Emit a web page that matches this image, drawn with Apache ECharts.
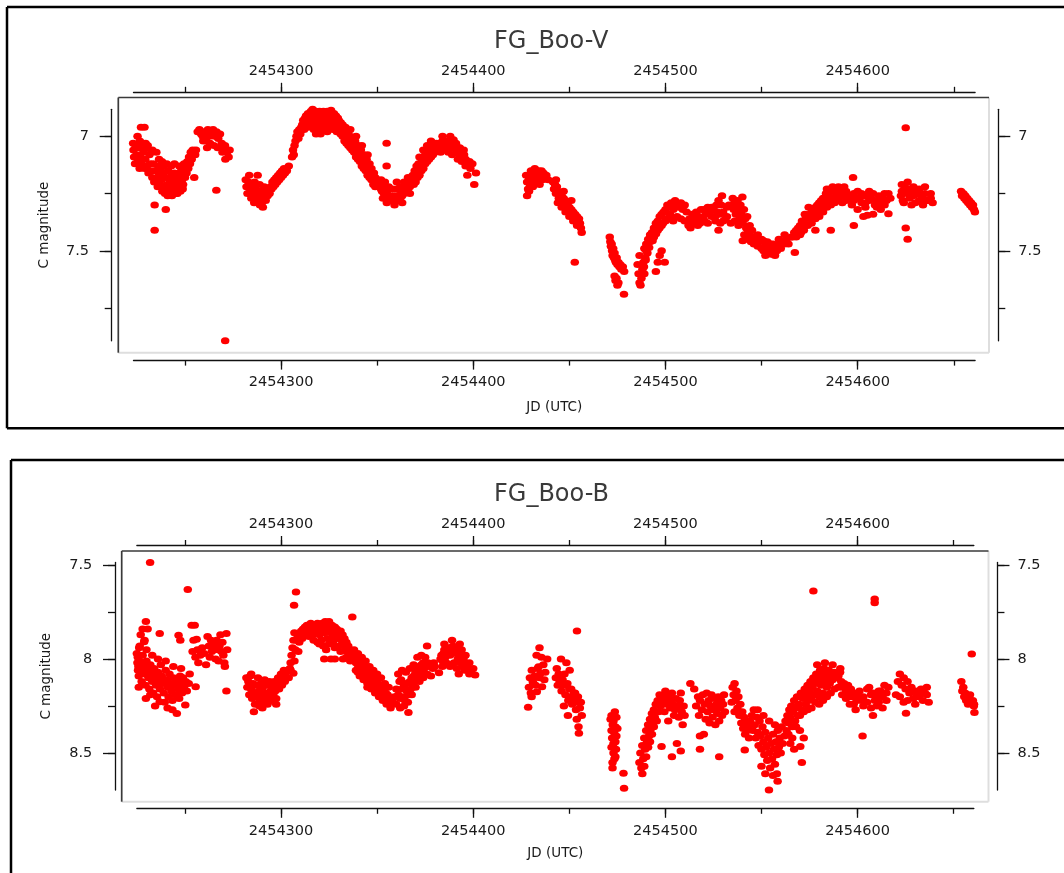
<!DOCTYPE html>
<html><head><meta charset="utf-8">
<script src="https://cdn.jsdelivr.net/npm/echarts@6/dist/echarts.min.js"></script>
<style>html,body{margin:0;padding:0;background:#fff}#c{width:1064px;height:873px}</style>
</head><body><div id="c"></div>
<script>
// ---------------- DATA ----------------
const JD_BASE = 2454000;                       // points below are stored as JD - JD_BASE
const vTitle = 'FG_Boo-V';
const bTitle = 'FG_Boo-B';
const xAxisName = 'JD (UTC)';
const yAxisName = 'C magnitude';
const xMajorTicks = [2454300, 2454400, 2454500, 2454600];
const xMinorTicks = [2454250, 2454300, 2454350, 2454400, 2454450, 2454500, 2454550, 2454600, 2454650];
const vYMajorTicks = [7, 7.5];
const vYMinorTicks = [7, 7.25, 7.5, 7.75];
const bYMajorTicks = [7.5, 8, 8.5];
const bYMinorTicks = [7.5, 7.75, 8, 8.25, 8.5];

// FG Boo, V band: [JD - 2454000, magnitude]
const vPoints = [
[223.0,7.03],[223.2,7.06],[223.5,7.09],[224.0,7.12],[224.3,7.04],[224.8,7.08],[225.3,7.0],[225.5,7.11],[226.0,7.05],[226.4,7.14],[226.5,7.02],[226.8,7.09],[227.1,6.96],[227.3,7.12],[228.0,7.03],[228.3,7.07],[228.9,6.96],[229.0,7.14],[229.3,7.1],[229.5,7.03],[229.8,7.05],[230.2,7.13],[230.6,7.04],[231.0,7.16],[231.5,7.08],[231.8,7.12],[232.4,7.07],[232.6,7.15],[233.0,7.18],[233.0,7.06],[233.5,7.12],[234.0,7.2],[234.2,7.30],[234.2,7.41],[234.5,7.15],[235.1,7.07],[235.2,7.19],[235.8,7.22],[236.0,7.13],[236.5,7.17],[236.5,7.1],[237.0,7.21],[237.4,7.15],[237.8,7.19],[238.0,7.11],[238.2,7.24],[238.6,7.17],[239.0,7.13],[239.5,7.22],[239.6,7.25],[240.0,7.32],[240.2,7.18],[240.5,7.12],[240.8,7.21],[241.0,7.26],[241.2,7.15],[241.6,7.24],[242.0,7.19],[242.5,7.22],[242.8,7.13],[243.0,7.17],[243.2,7.26],[243.6,7.2],[244.0,7.23],[244.5,7.16],[244.5,7.12],[245.0,7.21],[245.5,7.25],[245.8,7.18],[246.0,7.25],[246.3,7.22],[246.7,7.17],[247.0,7.13],[247.2,7.2],[247.6,7.24],[248.0,7.15],[248.5,7.19],[248.8,7.23],[249.0,7.21],[249.4,7.16],[249.5,7.12],[250.0,7.18],[250.3,7.13],[250.8,7.16],[251.2,7.11],[251.7,7.14],[252.1,7.09],[252.6,7.12],[253.0,7.07],[253.5,7.1],[254.0,7.06],[254.8,7.18],[255.3,7.08],[255.7,7.06],
[256.6,6.98],[257.5,6.97],[258.4,6.99],[259.2,7.0],[259.5,7.02],[260.0,6.98],[261.0,7.02],[261.5,7.05],[261.9,6.97],[262.8,7.0],[263.0,7.03],[263.6,6.98],[264.6,6.97],[265.0,7.04],[265.4,7.0],[266.3,7.235],[266.4,6.98],[267.0,7.05],[267.3,7.01],[268.2,6.99],[269.1,7.03],[269.5,7.07],[270.0,7.05],[270.8,7.04],[270.9,7.893],[271.0,7.1],[271.8,7.07],[272.7,7.09],[273.2,7.06],
[281.6,7.19],[282.0,7.22],[282.5,7.25],[283.0,7.2],[283.4,7.17],[283.5,7.22],[284.0,7.24],[284.5,7.27],[285.0,7.22],[285.5,7.25],[286.0,7.29],[286.2,7.2],[286.5,7.23],[287.0,7.26],[287.8,7.17],[288.0,7.28],[288.5,7.24],[288.8,7.21],[289.0,7.3],[289.5,7.26],[290.0,7.29],[290.5,7.31],[291.0,7.27],[291.2,7.22],[291.5,7.24],[292.0,7.28],[292.5,7.25],[293.0,7.26],[293.5,7.23],[294.0,7.25],[294.5,7.22],[295.0,7.23],[295.5,7.2],[296.0,7.22],[296.5,7.19],[297.0,7.21],[297.5,7.18],[298.0,7.2],[298.5,7.17],[299.0,7.19],[299.5,7.16],[300.0,7.18],[300.5,7.15],[301.0,7.17],[301.5,7.14],[302.0,7.16],[303.0,7.15],[304.0,7.13],
[305.7,7.09],[306.2,7.06],[306.6,7.08],[307.0,7.04],[307.5,7.02],[308.0,7.0],[308.5,6.98],[309.0,7.01],[309.5,6.97],[310.0,6.99],[310.5,6.96],[311.0,6.95],[311.5,6.93],[312.0,6.94],[312.5,6.92],[313.0,6.91],[313.5,6.93],[314.0,6.9],[314.7,6.91],[315.5,6.89],[316.4,6.882],[317.0,6.92],[318.2,6.99],[320.5,6.99],
[317.5,6.91],[318.0,6.93],[318.6,6.9],[319.0,6.92],[319.6,6.95],[320.0,6.91],[320.6,6.93],[321.0,6.9],[321.6,6.92],[322.0,6.89],[322.5,6.95],[322.6,6.91],[323.0,6.93],[323.5,6.9],[324.0,6.89],[324.5,6.904],[325.0,6.92],[325.5,6.9],[326.0,6.91],[326.5,6.93],[326.5,6.96],[327.0,6.92],[327.5,6.9],[328.0,6.93],[328.5,6.91],[329.0,6.94],[329.5,6.92],[330.0,6.93],[330.5,6.95],[331.0,6.94],[331.5,6.96],[332.0,6.95],[332.5,6.97],
[312.0,6.97],[313.0,6.95],[314.0,6.96],[315.0,6.94],[316.0,6.95],[317.0,6.97],[318.0,6.96],[319.0,6.98],[321.0,6.97],[323.0,6.96],[324.0,6.98],[325.0,6.95],[327.0,6.97],[328.0,6.96],[329.0,6.98],[330.0,6.97],[331.0,6.99],[332.0,7.0],[320.0,6.89],[318.0,6.89],[326.0,6.886],
[333.0,6.98],[333.5,6.96],[334.0,6.99],[334.5,7.0],[335.0,6.98],[335.5,7.01],[336.0,7.0],[336.5,7.02],[337.0,7.03],[337.5,7.01],[338.0,7.04],[338.5,7.02],[339.0,7.05],[339.5,7.06],[340.0,7.04],[340.5,7.07],[341.0,7.08],[341.5,7.06],[342.0,7.09],[342.5,7.1],[343.0,7.08],[343.3,7.11],[344.0,7.12],[344.5,7.1],[345.0,7.13],[345.5,7.15],[346.0,7.12],[346.5,7.16],[347.0,7.14],[347.7,7.17],[348.3,7.16],[349.0,7.18],[349.5,7.2],[350.0,7.19],[354.9,7.03],[354.9,7.13],
[333.0,7.02],[334.0,7.03],[335.0,7.04],[336.0,7.05],[337.0,7.06],[338.0,7.07],[339.0,7.09],[340.0,7.1],[341.0,7.11],[342.0,7.13],[343.0,7.14],[344.0,7.15],[345.0,7.17],[346.0,7.18],[347.0,7.19],[348.0,7.21],[349.0,7.22],[336.0,6.97],[339.0,7.0],[342.0,7.04],[345.0,7.08],
[350.5,7.21],[351.0,7.22],[351.5,7.2],[352.0,7.23],[352.5,7.24],[353.0,7.22],[353.5,7.25],[354.0,7.24],[354.5,7.26],[355.0,7.25],[355.5,7.27],[356.0,7.26],[356.5,7.28],[357.0,7.27],[357.5,7.28],[358.0,7.26],[358.5,7.28],[359.0,7.27],[359.5,7.28],[360.0,7.26],[360.2,7.2],[360.5,7.27],[361.0,7.28],[361.5,7.26],[362.0,7.27],[362.5,7.25],[363.0,7.26],[363.5,7.24],[364.0,7.25],[364.5,7.23],[365.0,7.24],[365.5,7.22],[366.0,7.23],[366.5,7.21],[367.0,7.22],[367.5,7.2],[368.0,7.19],
[352.0,7.19],[354.0,7.2],[356.0,7.22],[358.0,7.23],[360.0,7.23],[362.0,7.22],[364.0,7.2],[366.0,7.18],[355.0,7.29],[359.0,7.3],[363.0,7.29],[353.0,7.27],[367.0,7.25],
[368.5,7.17],[369.0,7.18],[369.5,7.15],[370.0,7.16],[370.5,7.13],[371.0,7.18],[371.5,7.12],[372.0,7.14],[372.8,7.13],[373.2,7.1],[373.7,7.11],[374.2,7.09],[375.0,7.08],[375.5,7.1],[376.0,7.07],[377.2,7.085],[377.5,7.06],[378.0,7.05],[379.0,7.06],[380.0,7.04],
[369.0,7.21],[370.0,7.2],[371.0,7.16],[372.0,7.17],[373.0,7.15],[374.0,7.14],[375.0,7.12],[376.0,7.11],[377.0,7.1],[378.0,7.09],[379.0,7.08],[380.0,7.07],[372.0,7.09],[374.0,7.06],[376.0,7.04],[378.0,7.02],
[380.8,7.03],[381.5,7.05],[382.0,7.04],[382.6,7.03],[383.2,7.05],[384.0,7.02],[384.7,7.04],[385.4,7.03],[386.2,7.05],[386.8,7.02],[387.5,7.04],[388.2,7.03],[389.0,7.05],[389.7,7.015],[390.5,7.04],[391.0,7.06],[391.5,7.07],[392.2,7.05],[393.0,7.08],[393.8,7.07],[394.5,7.09],[395.2,7.08],[396.0,7.1],[396.9,7.17],[397.0,7.12],[398.0,7.11],[398.5,7.14],[399.5,7.12],[400.5,7.21],[401.4,7.16],
[383.0,7.07],[385.0,7.06],[387.0,7.07],[389.0,7.08],[391.0,7.03],[393.0,7.05],[395.0,7.06],[384.0,7.0],[388.0,7.0],[392.0,7.1],[394.0,7.11],[396.0,7.13],
[427.5,7.17],[428.0,7.2],[428.5,7.23],[429.0,7.18],[429.5,7.21],[430.0,7.15],[430.5,7.19],[431.0,7.22],[431.5,7.17],[432.0,7.14],[432.5,7.2],[433.0,7.16],[433.5,7.18],[434.0,7.15],[434.5,7.21],[435.0,7.17],[435.5,7.15],[436.0,7.19],[436.5,7.16],[437.0,7.18],[438.0,7.17],[439.0,7.19],[428.0,7.26],[429.0,7.24],
[441.5,7.2],[442.0,7.23],[442.5,7.21],[443.0,7.25],[443.5,7.22],[444.0,7.24],[444.5,7.27],[445.0,7.25],[445.5,7.28],[446.0,7.26],[446.5,7.29],[447.0,7.27],[447.5,7.3],[448.0,7.28],[448.5,7.31],[449.0,7.3],[449.5,7.32],[450.0,7.31],[450.5,7.33],[451.0,7.32],[451.5,7.34],[452.0,7.33],[452.5,7.35],[453.0,7.34],[453.5,7.36],[454.0,7.35],[454.5,7.37],[455.0,7.36],[455.5,7.38],[456.0,7.4],[456.4,7.42],[452.8,7.55],
[444.0,7.29],[446.0,7.31],[448.0,7.33],[450.0,7.35],[452.0,7.37],[454.0,7.39],[443.0,7.19],[447.0,7.24],[451.0,7.28],
[471.0,7.44],[471.3,7.46],[471.6,7.48],[472.0,7.47],[472.2,7.5],[472.5,7.52],[472.8,7.49],[473.2,7.53],[473.5,7.51],[473.8,7.54],[474.2,7.55],[474.6,7.53],[475.0,7.56],[475.5,7.55],[476.0,7.57],[476.5,7.56],[477.0,7.58],[477.8,7.57],[478.5,7.59],[473.5,7.61],[474.0,7.63],[474.5,7.62],[475.0,7.65],[475.5,7.64],[478.4,7.69],
[485.5,7.56],[486.0,7.6],[486.5,7.64],[487.0,7.65],[487.5,7.62],[488.0,7.58],[488.5,7.55],[489.0,7.6],[489.5,7.53],[486.5,7.52],[488.8,7.57],[489.7,7.54],[490.6,7.51],[491.5,7.485],[493.3,7.456],[495.1,7.426],[496.9,7.4],[498.7,7.38],[500.5,7.36],[502.3,7.34],[504.1,7.32],
[489.0,7.49],[490.0,7.47],[491.0,7.45],[492.0,7.43],[493.0,7.42],[494.0,7.4],[495.0,7.38],[496.0,7.37],[497.0,7.35],[498.0,7.34],[499.0,7.33],[500.0,7.32],[501.0,7.3],[502.0,7.31],[503.0,7.29],[504.0,7.3],[505.0,7.28],[506.0,7.3],[507.0,7.31],[508.0,7.29],[509.0,7.32],[510.0,7.3],[511.0,7.33],[490.0,7.5],[492.0,7.46],[494.0,7.44],[496.0,7.41],[498.0,7.39],[500.0,7.37],[496.0,7.55],[499.6,7.55],[495.0,7.59],[497.0,7.52],[498.0,7.5],
[512.5,7.36],[513.0,7.4],[514.0,7.34],[515.0,7.37],[516.0,7.33],[516.8,7.39],[517.5,7.35],[518.5,7.32],[519.5,7.36],[520.4,7.37],[521.0,7.34],[522.0,7.31],[523.0,7.33],[524.0,7.35],[525.0,7.32],[525.8,7.35],[526.5,7.3],[527.0,7.33],[527.6,7.28],[527.6,7.41],[528.5,7.38],[529.0,7.3],[529.4,7.26],[530.0,7.33],[531.2,7.36],[532.0,7.31],
[502.0,7.36],[504.0,7.37],[506.0,7.35],[508.0,7.36],[510.0,7.37],[512.0,7.39],[514.0,7.38],[516.0,7.36],[518.0,7.38],[520.0,7.32],[522.0,7.38],[524.0,7.31],[526.0,7.37],[528.0,7.34],[530.0,7.37],[532.0,7.35],[534.0,7.38],[536.0,7.37],[538.0,7.39],[533.0,7.3],
[534.5,7.3],[535.0,7.27],[535.5,7.32],[536.0,7.29],[536.6,7.34],[537.0,7.31],[537.5,7.28],[538.0,7.33],[538.5,7.36],[539.0,7.3],[539.5,7.34],[540.0,7.265],[540.2,7.38],[540.8,7.32],[541.5,7.36],[542.0,7.4],[542.5,7.35],[543.0,7.42],[543.8,7.39],
[540.2,7.456],[541.0,7.43],[542.0,7.45],[543.0,7.44],[543.8,7.426],[544.5,7.46],[545.5,7.44],[546.0,7.47],[547.0,7.45],[547.4,7.44],[548.0,7.48],[549.0,7.46],[550.0,7.49],[551.0,7.456],[551.0,7.5],[552.0,7.48],[553.0,7.5],[554.0,7.49],[554.6,7.47],[555.0,7.515],[556.0,7.5],[557.0,7.49],[558.0,7.5],[558.3,7.485],[559.0,7.47],[560.0,7.49],[561.0,7.46],[561.9,7.47],[563.0,7.45],[564.0,7.47],[565.5,7.44],[567.3,7.507],
[545.0,7.41],[548.0,7.43],[550.0,7.45],[553.0,7.46],[556.0,7.47],[559.0,7.45],[562.0,7.43],[552.0,7.52],[557.0,7.52],
[566.0,7.44],[567.0,7.42],[568.0,7.41],[569.0,7.4],[570.0,7.39],[570.5,7.42],[571.0,7.37],[572.0,7.38],[572.5,7.34],[573.0,7.36],[574.0,7.35],[574.5,7.31],[575.0,7.34],[576.0,7.33],[576.3,7.36],[577.0,7.32],[578.0,7.31],[578.0,7.41],[578.5,7.34],[579.0,7.3],[580.0,7.29],[580.5,7.32],[581.0,7.28],[582.0,7.27],[582.5,7.3],[583.0,7.29],[583.5,7.25],[584.0,7.26],[585.0,7.25],[585.5,7.28],[586.0,7.41],[586.5,7.24],[587.0,7.27],[588.0,7.24],[589.0,7.26],[590.0,7.25],[591.0,7.23],[592.0,7.26],[593.0,7.25],[594.0,7.24],[595.0,7.27],[596.0,7.26],
[568.0,7.44],[570.0,7.43],[572.0,7.41],[574.0,7.39],[576.0,7.38],[578.0,7.36],[580.0,7.35],[582.0,7.33],[584.0,7.31],[586.0,7.3],[588.0,7.29],[590.0,7.28],[592.0,7.29],[594.0,7.28],[587.0,7.22],[590.0,7.22],[593.0,7.22],[584.0,7.23],
[597.6,7.18],[597.0,7.3],[598.0,7.28],[598.0,7.39],[599.0,7.27],[600.0,7.32],[601.0,7.27],[602.0,7.29],[603.0,7.35],[604.0,7.29],[604.0,7.31],[605.0,7.345],[606.0,7.28],[607.0,7.27],[608.0,7.34],[609.0,7.3],[610.0,7.28],[611.0,7.26],[612.0,7.29],[613.0,7.27],[614.0,7.3],[615.0,7.28],[616.0,7.338],[617.0,7.27],
[598.0,7.25],[600.0,7.24],[602.0,7.25],[604.0,7.26],[606.0,7.24],[608.0,7.25],[610.0,7.31],[612.0,7.32],[614.0,7.25],[616.0,7.25],
[622.5,7.26],[623.0,7.24],[623.5,7.28],[624.0,7.29],[624.5,7.22],[625.0,6.963],[625.0,7.4],[625.5,7.25],[626.0,7.45],[626.5,7.23],[627.0,7.27],[628.0,7.3],[628.5,7.25],[629.0,7.26],[630.0,7.24],[631.0,7.25],[632.0,7.28],[633.0,7.26],[634.0,7.27],[635.0,7.25],[636.0,7.28],[637.0,7.28],[638.0,7.27],[639.0,7.29],
[623.0,7.21],[626.0,7.2],[629.0,7.22],[632.0,7.23],[635.0,7.22],[638.0,7.25],[630.0,7.29],[634.0,7.3],
[653.8,7.24],[654.3,7.26],[655.0,7.25],[655.5,7.27],[656.0,7.26],[656.5,7.28],[657.0,7.27],[657.5,7.29],[658.0,7.28],[658.5,7.3],[659.0,7.29],[659.5,7.31],[660.0,7.3],[660.5,7.32],[661.0,7.33]
];

// FG Boo, B band: [JD - 2454000, magnitude]
const bPoints = [
[225.0,7.97],[225.3,8.02],[225.6,8.06],[225.5,7.99],[225.8,8.04],[226.0,8.09],[226.5,8.01],[227.0,8.06],[227.5,8.12],[228.0,7.98],[228.5,8.03],[229.0,8.08],[229.5,8.14],[229.7,8.21],[230.0,8.01],[230.5,8.05],[231.0,8.1],[231.5,8.16],[232.0,8.03],[232.5,8.07],[233.0,8.12],[233.5,8.18],[234.0,8.05],[234.5,8.09],[235.0,8.14],[235.5,8.2],[236.0,8.07],[236.5,8.11],[236.9,8.227],[237.0,8.16],[237.5,8.03],[238.0,8.09],[238.5,8.13],[239.0,8.18],[239.5,8.23],[240.0,8.06],[240.5,8.11],[241.0,8.15],[241.5,8.2],[242.0,8.08],[242.5,8.13],[243.0,8.17],[243.5,8.22],[244.0,8.1],[244.5,8.14],[245.0,8.19],[245.8,8.29],[246.0,8.12],[246.5,8.16],[247.0,8.21],[247.5,8.09],[248.0,8.13],[248.5,8.18],[249.0,8.1],[249.5,8.15],[250.2,8.245],[250.5,8.12],[251.0,8.17],[252.0,8.13],[252.5,8.08],[255.6,8.147],[226.0,8.15],[232.0,8.19],[234.5,8.25],[241.0,8.26],[243.5,8.27],[226.5,7.93],[230.0,7.95],[233.0,7.98],[236.0,8.0],[240.0,8.01],[244.0,8.04],[248.0,8.05],[227.0,7.87],[228.0,7.84],[229.0,7.9],
[231.9,7.486],[229.7,7.80],[230.6,7.84],[236.9,7.864],[228.8,7.908],[226.2,7.94],[246.7,7.873],[247.6,7.9],[251.5,7.63],
[253.5,7.82],[254.0,7.96],[254.5,7.9],[255.1,7.82],[255.5,7.99],[256.1,7.894],[256.5,7.95],[257.0,8.02],[258.0,7.98],[259.0,7.94],[260.0,7.97],[261.0,8.03],[261.8,7.88],[262.5,7.93],[263.0,7.99],[263.6,7.9],[264.0,7.96],[265.0,7.92],[265.4,7.95],[266.0,8.0],[266.5,7.9],[267.2,7.95],[267.5,8.01],[268.0,7.93],[268.5,7.87],[269.0,7.96],[269.5,7.91],[270.0,7.98],[270.5,8.02],[270.8,8.04],[271.6,7.864],[271.6,8.17],[272.0,7.95],
[282.0,8.1],[282.5,8.15],[283.0,8.12],[283.5,8.19],[284.0,8.09],[284.5,8.16],[285.0,8.21],[285.5,8.13],[285.9,8.28],[286.0,8.18],[286.5,8.24],[287.0,8.14],[287.5,8.2],[288.0,8.1],[288.5,8.17],[289.0,8.22],[289.5,8.13],[290.0,8.19],[290.3,8.26],[290.5,8.15],[291.0,8.23],[291.5,8.11],[292.0,8.18],[292.5,8.21],[293.0,8.14],[293.5,8.2],[294.0,8.12],[294.5,8.17],[295.0,8.22],[295.5,8.15],[296.0,8.19],[296.5,8.12],[297.0,8.17],[297.5,8.21],[298.0,8.14],[298.5,8.1],[299.0,8.16],[299.5,8.12],[300.0,8.08],[300.5,8.14],[301.0,8.1],[301.5,8.06],[302.0,8.12],[302.5,8.07],[284.5,8.08],[288.8,8.25],[293.0,8.24],[297.5,8.24],
[304.0,8.1],[304.6,8.05],[305.0,8.02],[305.5,7.98],[306.0,7.94],[306.4,8.076],[306.5,7.9],[306.8,7.714],[307.0,7.86],[307.8,7.643],[307.5,7.95],[308.0,7.9],[308.5,7.87],[309.0,7.96],[309.5,7.91],[310.0,7.88],[310.5,7.85],[311.0,7.89],[311.5,7.84],[312.0,7.87],[312.5,7.83],[313.0,7.86],[313.5,7.82],[314.0,7.85],[314.5,7.88],[315.0,7.83],[315.5,7.81],[305.0,8.06],[307.0,8.01],
[316.0,7.84],[316.5,7.87],[317.0,7.83],[317.5,7.86],[318.0,7.82],[318.5,7.85],[319.0,7.81],[319.5,7.84],[320.0,7.87],[320.5,7.82],[321.0,7.85],[321.5,7.81],[322.0,7.83],[322.5,8.0],[322.5,7.86],[323.0,7.8],[323.5,7.83],[324.0,7.81],[324.5,7.85],[325.0,7.8],[325.5,7.83],[326.0,8.0],[326.0,7.86],[326.5,7.82],[327.0,7.84],[327.5,7.88],[328.0,8.0],[328.0,7.83],[328.5,7.86],[329.0,7.84],[329.5,7.89],[330.0,7.86],[330.5,7.88],[331.0,7.85],[331.5,7.9],[332.0,7.87],[332.3,8.0],[332.5,7.92],[333.0,7.89],[333.5,7.94],[334.0,7.91],[334.5,7.96],[335.0,7.93],[335.5,7.98],[336.0,7.95],[337.1,7.776],[320.0,7.92],[324.0,7.89],[327.0,7.91],[330.0,7.93],[323.5,7.95],
[317.0,7.9],[319.0,7.91],[321.0,7.9],[322.0,7.93],[325.0,7.92],[328.0,7.94],[331.0,7.96],[334.0,7.99],[336.0,8.01],
[337.0,7.97],[338.0,8.0],[338.5,7.98],[339.0,8.02],[339.5,8.0],[340.0,8.03],[340.5,8.01],[341.0,8.05],[341.5,8.03],[342.0,7.99],[342.5,8.06],[343.0,8.04],[343.5,8.08],[344.0,8.05],[344.5,8.09],[345.0,8.07],[345.5,8.11],[346.0,8.08],[346.5,8.1],[347.0,8.12],[347.5,8.09],[348.0,8.13],[348.5,8.11],[349.0,8.14],[349.5,8.12],[350.0,8.15],[350.5,8.13],[351.0,8.16],[351.5,8.14],[352.0,8.17],[352.5,8.15],[353.0,8.19],[353.5,8.16],[354.0,8.2],[354.5,8.18],[355.0,8.22],[355.5,8.19],[356.0,8.21],[357.0,8.23],[358.0,8.22],[340.0,8.07],[345.0,8.13],
[338.0,7.95],[340.0,7.97],[342.0,8.02],[344.0,8.01],[346.0,8.04],[348.0,8.06],[350.0,8.08],[352.0,8.1],[354.0,8.13],[356.0,8.15],[339.0,8.06],[341.0,8.09],[343.0,8.11],[345.0,8.15],[347.0,8.16],[349.0,8.18],[351.0,8.2],[353.0,8.22],[355.0,8.24],[357.0,8.26],
[359.0,8.2],[360.0,8.16],[361.0,8.19],[361.7,8.12],[362.0,8.21],[362.5,8.11],[363.0,8.16],[363.5,8.2],[364.0,8.14],[364.5,8.22],[365.0,8.13],[365.5,8.17],[366.3,8.284],[366.5,8.19],[367.0,8.12],[367.5,8.16],[368.0,8.1],[368.5,8.14],[369.0,8.09],[369.5,8.12],[370.0,8.07],[370.5,8.1],[371.0,8.05],[371.5,8.08],[372.0,8.04],[372.5,8.07],[373.0,8.03],[373.5,8.06],[374.0,8.02],[374.5,8.05],[375.0,8.03],[376.0,7.93],[376.5,8.02],[377.0,8.04],[378.0,8.03],[379.0,8.05],[379.5,8.02],[380.0,8.04],
[360.0,8.24],[362.0,8.26],[364.0,8.25],[366.0,8.23],[368.0,8.19],[370.0,8.15],[372.0,8.12],[374.0,8.1],[376.0,8.08],[378.0,8.09],[361.0,8.08],[363.0,8.06],[365.0,8.07],[367.0,8.05],[369.0,8.03],[371.0,7.99],[373.0,7.98],[375.0,7.99],
[382.2,8.073],[383.0,8.0],[383.5,7.98],[384.0,8.01],[384.5,7.97],[385.0,7.95],[385.5,7.99],[386.0,7.94],[386.5,7.97],[387.0,7.96],[387.5,7.94],[388.0,7.98],[389.0,7.95],[389.5,7.93],[390.0,7.96],[390.5,7.94],[391.0,7.97],[391.5,8.05],[392.0,7.96],[392.5,8.08],[393.0,7.98],[393.5,8.02],[394.0,7.99],[394.5,8.04],[395.0,8.0],[395.5,8.06],[396.0,8.03],[397.0,8.05],[398.0,8.02],[399.0,8.06],[401.0,8.085],
[384.0,8.04],[386.0,8.02],[388.0,8.04],[390.0,8.02],[392.0,8.0],[394.0,7.95],[396.0,7.98],[398.0,8.08],[400.0,8.05],[385.0,7.92],[389.0,7.9],[393.0,7.92],
[428.6,8.257],[429.0,8.15],[429.5,8.1],[430.0,8.18],[430.4,8.2],[430.5,8.06],[431.0,8.12],[431.3,8.129],[432.0,8.09],[432.5,8.14],[433.0,7.98],[433.1,8.174],[433.5,8.05],[434.0,8.041],[434.5,7.94],[434.5,8.1],[435.0,8.076],[435.5,7.99],[435.8,8.147],[436.5,8.03],[437.0,8.11],[437.5,8.07],[438.5,8.0],
[443.0,8.1],[443.5,8.05],[444.0,8.14],[444.5,8.08],[445.0,8.12],[445.7,8.0],[446.0,8.17],[446.5,8.11],[447.0,8.14],[447.2,8.25],[447.5,8.08],[448.0,8.19],[448.5,8.02],[449.0,8.13],[449.3,8.3],[449.5,8.22],[450.0,8.16],[450.2,8.06],[450.5,8.2],[451.0,8.16],[451.5,8.24],[452.0,8.21],[452.5,8.18],[453.0,8.18],[453.5,8.27],[453.9,8.32],[454.0,8.23],[454.0,7.85],[454.5,8.2],[454.8,8.36],[455.0,8.395],[455.5,8.26],[456.0,8.23],[456.5,8.3],
[471.5,8.32],[472.0,8.3],[472.0,8.38],[472.0,8.47],[472.3,8.42],[472.5,8.55],[472.6,8.35],[473.0,8.33],[473.0,8.45],[473.0,8.5],[473.3,8.39],[473.5,8.53],[473.7,8.28],[474.0,8.36],[474.0,8.44],[474.0,8.52],[474.3,8.48],[474.5,8.31],[474.5,8.41],[475.0,8.37],[472.5,8.58],[478.2,8.608],[478.5,8.688],
[486.5,8.55],[487.0,8.5],[487.5,8.58],[488.0,8.61],[488.0,8.46],[488.5,8.53],[489.0,8.42],[489.0,8.57],[489.5,8.48],[490.0,8.38],[490.0,8.52],[490.5,8.44],[491.0,8.35],[491.0,8.47],[491.5,8.41],[492.0,8.32],[492.0,8.44],[492.5,8.37],[493.0,8.29],[493.0,8.4],[493.5,8.34],[494.0,8.27],[494.0,8.36],[494.5,8.31],[495.0,8.24],[495.5,8.33],[496.0,8.22],[496.5,8.28],[497.0,8.19],[497.5,8.25],[498.0,8.466],[498.0,8.22],[499.0,8.2],[499.5,8.28],[500.0,8.17],[500.5,8.24],[501.0,8.21],[501.5,8.33],[502.0,8.19],[502.5,8.26],[503.0,8.22],[503.4,8.18],[503.4,8.52],[504.0,8.24],[504.5,8.3],[505.0,8.27],[505.5,8.21],[506.0,8.45],[506.5,8.25],[507.0,8.31],[507.5,8.22],[508.0,8.18],[508.0,8.49],[508.5,8.28],[509.0,8.35],[509.5,8.25],[510.0,8.3],
[513.0,8.13],[515.0,8.16],[516.0,8.25],[517.0,8.2],[517.5,8.3],[518.0,8.22],[518.0,8.41],[518.0,8.48],[519.0,8.27],[519.5,8.19],[520.0,8.4],[520.5,8.24],[521.0,8.32],[521.5,8.18],[522.0,8.28],[522.5,8.22],[523.0,8.34],[523.5,8.25],[524.0,8.19],[524.5,8.31],[525.0,8.27],[525.5,8.21],[526.0,8.35],[526.5,8.24],[527.0,8.29],[527.5,8.2],[528.0,8.52],[528.0,8.33],[528.5,8.26],[529.0,8.22],[529.5,8.3],[530.0,8.24],[530.5,8.19],[531.0,8.28],
[535.0,8.15],[535.5,8.19],[536.0,8.13],[536.5,8.22],[537.0,8.17],[537.5,8.26],[538.0,8.2],[538.5,8.3],[539.0,8.24],[539.5,8.34],[540.0,8.28],[540.5,8.37],[541.0,8.31],[541.3,8.484],[541.5,8.4],[542.0,8.34],[542.5,8.38],[543.0,8.36],[543.5,8.42],[544.0,8.33],[534.5,8.23],[536.0,8.28],
[545.0,8.3],[545.5,8.38],[546.0,8.27],[546.5,8.35],[547.0,8.42],[547.5,8.31],[548.0,8.39],[548.5,8.46],[549.0,8.33],[549.5,8.41],[550.0,8.57],[550.0,8.48],[550.5,8.36],[551.0,8.44],[551.5,8.51],[552.0,8.61],[552.0,8.39],[552.5,8.47],[553.0,8.54],[553.5,8.42],[553.9,8.697],[554.0,8.5],[554.5,8.58],[555.0,8.45],[555.5,8.53],[556.0,8.62],[556.0,8.4],[556.5,8.48],[557.0,8.56],[557.5,8.44],[558.0,8.61],[558.0,8.51],[558.4,8.65],[558.5,8.38],[559.0,8.47],[559.5,8.42],[560.0,8.5],[560.5,8.36],[561.0,8.45],[562.0,8.41],[562.5,8.33],[563.0,8.38],[548.0,8.27],[551.0,8.3],[554.0,8.33],[557.0,8.35],
[563.5,8.3],[564.0,8.34],[564.5,8.27],[565.0,8.31],[565.5,8.25],[566.0,8.36],[566.5,8.28],[567.0,8.22],[567.5,8.33],[568.0,8.26],[568.5,8.2],[569.0,8.3],[569.5,8.24],[570.0,8.38],[570.2,8.466],[570.5,8.18],[571.0,8.55],[571.0,8.27],[571.5,8.21],[572.0,8.42],[572.5,8.16],[573.0,8.24],[573.5,8.19],[574.0,8.14],[574.5,8.22],[575.0,8.17],[575.5,8.12],[576.0,8.2],[577.0,7.638],
[564.0,8.4],[566.0,8.42],[568.0,8.36],[570.0,8.3],[572.0,8.28],[574.0,8.27],[576.0,8.26],[565.0,8.45],[567.0,8.48],
[576.5,8.15],[577.0,8.1],[577.5,8.19],[578.0,8.13],[578.5,8.08],[579.0,8.17],[579.5,8.11],[580.0,8.2],[580.5,8.06],[581.0,8.14],[581.5,8.09],[582.0,8.18],[582.5,8.05],[583.0,8.12],[583.5,8.07],[584.0,8.15],[584.5,8.1],[585.0,8.06],[585.5,8.13],[586.0,8.08],[587.0,8.11],[588.0,8.07],[589.0,8.1],[590.0,8.09],[590.9,8.07],[591.5,8.12],[592.0,8.15],[593.0,8.13],[594.0,8.17],[595.0,8.14],[596.0,8.24],[596.5,8.16],[597.0,8.2],[598.0,8.18],[599.0,8.27],[599.5,8.22],[600.0,8.2],
[578.0,8.23],[580.0,8.24],[582.0,8.22],[584.0,8.2],[586.0,8.18],[588.0,8.16],[590.0,8.15],[592.0,8.19],[594.0,8.21],[596.0,8.19],[598.0,8.24],[579.0,8.03],[583.0,8.02],[587.0,8.03],[591.0,8.05],
[601.0,8.17],[602.0,8.22],[602.6,8.41],[603.0,8.2],[605.0,8.16],[606.0,8.15],[607.0,8.19],[608.0,8.18],[608.0,8.3],[608.9,7.68],[608.9,7.7],[609.0,8.22],[610.0,8.2],[610.0,8.25],[611.0,8.17],[612.0,8.17],[613.0,8.2],[614.0,8.14],[615.0,8.18],[616.0,8.15],
[603.0,8.25],[605.0,8.23],[607.0,8.26],[611.0,8.23],[613.0,8.26],[615.0,8.22],
[620.0,8.19],[621.0,8.12],[622.0,8.08],[623.0,8.14],[624.0,8.1],[624.0,8.23],[625.0,8.16],[625.2,8.289],[626.0,8.12],[627.0,8.18],[628.0,8.15],[629.0,8.21],[630.0,8.17],[631.0,8.19],[632.0,8.2],[633.0,8.16],[634.0,8.22],[635.0,8.18],[636.0,8.19],[637.0,8.23],
[622.0,8.2],[626.0,8.22],[630.0,8.24],[634.0,8.18],[636.0,8.15],
[654.0,8.12],[654.5,8.17],[655.0,8.15],[655.5,8.2],[656.0,8.18],[656.5,8.22],[657.0,8.2],[657.5,8.24],[658.0,8.21],[658.5,8.19],[659.0,8.23],[659.4,7.973],[660.0,8.22],[660.5,8.25],[660.6,8.24],[660.8,8.285]
];

// ---------------- LAYOUT ----------------
const FONT = '"DejaVu Sans", sans-serif';
const INK = '#111111';
const panels = [
  { title: vTitle, points: vPoints, yMajor: vYMajorTicks, yMinor: vYMinorTicks,
    grid: {left: 133.5, top: 109.3, width: 841.6, height: 231.5},
    jd: [223.2, 661.1], mag: [6.882, 7.893],
    off: {top: 17, bottom: 19.3, left: 21.8, right: 23.2},
    box: [118.3, 97.5, 989, 352.7],
    frame: {left: 7, top: 7, bottom: 428.3},
    titleTop: 30, yNameGap: 60, xNameGap: 40 },
  { title: bTitle, points: bPoints, yMajor: bYMajorTicks, yMinor: bYMinorTicks,
    grid: {left: 136.85, top: 562.5, width: 837, height: 227.5},
    jd: [225, 660.5], mag: [7.486, 8.697],
    off: {top: 17, bottom: 18.3, left: 21.85, right: 23.6},
    box: [121.7, 551, 988.5, 801.7],
    frame: {left: 11, top: 460, bottom: null},
    titleTop: 483, yNameGap: 62, xNameGap: 38 }
];

const option = { animation: false, backgroundColor: '#ffffff', textStyle: {fontFamily: FONT},
  title: [], grid: [], xAxis: [], yAxis: [], series: [], graphic: [] };

const lineStyle = {color: INK, width: 1.3};
const labelStyle = {fontFamily: FONT, fontSize: 14.5, color: '#1a1a1a'};
const nameStyle = {fontFamily: FONT, fontSize: 13.5, color: '#1a1a1a'};
const fmt = v => String(v);

function gline(x1, y1, x2, y2, stroke, w, z) {
  return {type: 'line', silent: true, z: z, shape: {x1, y1, x2, y2}, style: {stroke: stroke, lineWidth: w}};
}

panels.forEach(P => {
  const gi = option.grid.length;
  option.grid.push(Object.assign({show: false, containLabel: false, outerBoundsMode: 'none'}, P.grid));

  const xb = {gridIndex: gi, type: 'value', min: JD_BASE + P.jd[0], max: JD_BASE + P.jd[1],
    splitLine: {show: false}, splitArea: {show: false}};
  const xi = option.xAxis.length;
  option.xAxis.push(
    Object.assign({}, xb, {position: 'top', offset: P.off.top,
      axisLine: {show: true, onZero: false, lineStyle},
      axisTick: {show: true, inside: false, length: 9.5, customValues: xMajorTicks, lineStyle},
      axisLabel: Object.assign({show: true, customValues: xMajorTicks, margin: 13.5, formatter: fmt}, labelStyle)}),
    Object.assign({}, xb, {position: 'top', offset: P.off.top,
      axisLine: {show: false, onZero: false},
      axisTick: {show: true, inside: false, length: 5.5, customValues: xMinorTicks, lineStyle},
      axisLabel: {show: false}}),
    Object.assign({}, xb, {position: 'bottom', offset: P.off.bottom,
      name: xAxisName, nameLocation: 'middle', nameGap: P.xNameGap, nameTextStyle: nameStyle,
      axisLine: {show: true, onZero: false, lineStyle},
      axisTick: {show: true, inside: false, length: 9.5, customValues: xMajorTicks, lineStyle},
      axisLabel: Object.assign({show: true, customValues: xMajorTicks, margin: 15, formatter: fmt}, labelStyle)}),
    Object.assign({}, xb, {position: 'bottom', offset: P.off.bottom,
      axisLine: {show: false, onZero: false},
      axisTick: {show: true, inside: false, length: 5.5, customValues: xMinorTicks, lineStyle},
      axisLabel: {show: false}})
  );

  const yb = {gridIndex: gi, type: 'value', inverse: true, min: P.mag[0], max: P.mag[1],
    splitLine: {show: false}, splitArea: {show: false}};
  const yi = option.yAxis.length;
  option.yAxis.push(
    Object.assign({}, yb, {position: 'left', offset: P.off.left,
      name: yAxisName, nameLocation: 'middle', nameGap: P.yNameGap, nameRotate: 90, nameTextStyle: nameStyle,
      axisLine: {show: true, onZero: false, lineStyle},
      axisTick: {show: true, inside: false, length: 12, customValues: P.yMajor, lineStyle},
      axisLabel: Object.assign({show: true, customValues: P.yMajor, margin: 22.7, formatter: fmt}, labelStyle)}),
    Object.assign({}, yb, {position: 'left', offset: P.off.left,
      axisLine: {show: false, onZero: false},
      axisTick: {show: true, inside: false, length: 7, customValues: P.yMinor, lineStyle},
      axisLabel: {show: false}}),
    Object.assign({}, yb, {position: 'right', offset: P.off.right,
      axisLine: {show: true, onZero: false, lineStyle},
      axisTick: {show: true, inside: false, length: 12, customValues: P.yMajor, lineStyle},
      axisLabel: Object.assign({show: true, customValues: P.yMajor, margin: 20, formatter: fmt}, labelStyle)}),
    Object.assign({}, yb, {position: 'right', offset: P.off.right,
      axisLine: {show: false, onZero: false},
      axisTick: {show: true, inside: false, length: 7, customValues: P.yMinor, lineStyle},
      axisLabel: {show: false}})
  );

  option.series.push({type: 'scatter', name: P.title, xAxisIndex: xi, yAxisIndex: yi,
    data: P.points.map(p => [JD_BASE + p[0], p[1]]),
    symbol: 'circle', symbolSize: [8.5, 7], itemStyle: {color: '#ff0000', opacity: 1},
    clip: false, silent: true, z: 5, emphasis: {disabled: true}});

  option.title.push({text: P.title, left: 494, top: P.titleTop, padding: 0,
    textStyle: {fontFamily: FONT, fontSize: 24, fontWeight: 'normal', color: '#3a3a3a'}});

  const [bx1, by1, bx2, by2] = P.box;
  option.graphic.push(
    gline(bx2, by1, bx2, by2, '#dedede', 2, 1),
    gline(bx1, by2, bx2, by2, '#dedede', 2, 1),
    gline(bx1, by1, bx1, by2, '#3a3a3a', 1.7, 2),
    gline(bx1, by1, bx2, by1, '#3a3a3a', 1.7, 2)
  );
  const F = P.frame;
  option.graphic.push(
    gline(F.left, F.top, 1070, F.top, '#000000', 2.5, 2),
    gline(F.left, F.top, F.left, F.bottom == null ? 880 : F.bottom, '#000000', 2.5, 2)
  );
  if (F.bottom != null) option.graphic.push(gline(F.left, F.bottom, 1070, F.bottom, '#000000', 2.5, 2));
});

const chart = echarts.init(document.getElementById('c'), null, {renderer: 'canvas'});
chart.setOption(option);
</script>
</body></html>
